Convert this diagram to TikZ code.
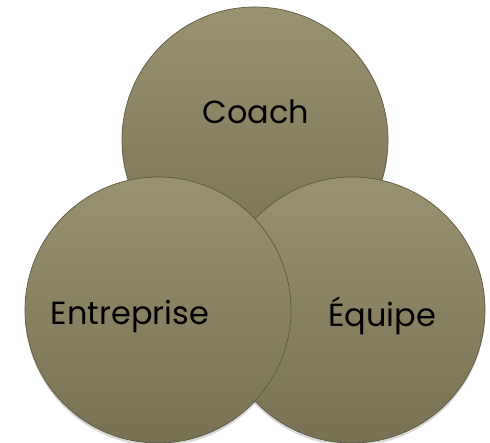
\documentclass[tikz,border=0pt]{standalone}
\usepackage{fontspec}
\setmainfont{Poppins}
\usetikzlibrary{shadows}

\definecolor{olivetop}{HTML}{9A9371}
\definecolor{olivebottom}{HTML}{777052}
\definecolor{oliveedge}{HTML}{5E5840}

\begin{document}
\begin{tikzpicture}[
            x=1pt, y=-1pt,
            disc/.style={circle, minimum size=266pt, inner sep=0pt,
                draw=oliveedge, line width=0.7pt,
                top color=olivetop, bottom color=olivebottom,
                drop shadow={opacity=0.3, shadow xshift=0pt, shadow yshift=-3pt}},
            word/.style={font=\fontsize{32}{38}\selectfont, text=black, inner sep=0pt}
            ]
            \useasboundingbox (0,0) rectangle (490,442);
            \node[disc] (coach) at (255, 140) {};
            \node[disc] (equipe) at (352, 310) {};
            \node[disc] (entreprise) at (158, 310) {};
            \node[word] (tcoach) at (256, 112) {Coach};
            \node[word] (tentreprise) at (130, 316) {Entreprise};
            \node[word] (tequipe) at (382, 316) {Équipe};
        \end{tikzpicture}
\end{document}
